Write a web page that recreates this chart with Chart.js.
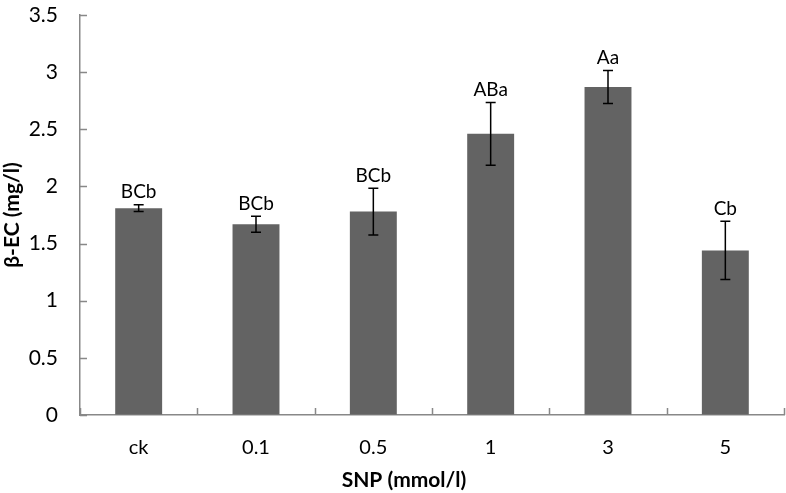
<!DOCTYPE html>
<html>
<head>
<meta charset="utf-8">
<script src="https://cdn.jsdelivr.net/npm/chart.js@4.4.0/dist/chart.umd.min.js"></script>
<style>
  html, body { margin: 0; padding: 0; background: #fff; }
  #wrap { width: 786px; height: 493px; }
</style>
</head>
<body>
<div id="wrap"><canvas id="myChart"></canvas></div>
<script>
const categories = ['ck', '0.1', '0.5', '1', '3', '5'];
const means = [1.81, 1.67, 1.78, 2.46, 2.87, 1.44];
const errors = [0.03, 0.07, 0.205, 0.275, 0.145, 0.255];
const letters = ['BCb', 'BCb', 'BCb', 'ABa', 'Aa', 'Cb'];
const xTitle = 'SNP (mmol/l)';

const FONT = 'Lato, "Open Sans", sans-serif';

// inward tick marks, error bars, letters, x title
const errorBarPlugin = {
    id: 'errorBars',
    afterDatasetsDraw(chart) {
        const ctx = chart.ctx;
        const xScale = chart.scales.x;
        const yScale = chart.scales.y;
        const area = chart.chartArea;
        const meta = chart.getDatasetMeta(0);
        ctx.save();

        // tick marks pointing into the plot
        ctx.strokeStyle = '#888';
        ctx.lineWidth = 1.5;
        ctx.beginPath();
        yScale.ticks.forEach((t, i) => {
            const y = Math.round(yScale.getPixelForTick(i)) + 0.5;
            ctx.moveTo(area.left, y);
            ctx.lineTo(area.left + 7, y);
        });
        const step = xScale.getPixelForValue(1) - xScale.getPixelForValue(0);
        for (let i = 0; i <= categories.length; i++) {
            const x = Math.round(xScale.getPixelForValue(i) - step / 2) + 0.5;
            ctx.moveTo(x, area.bottom);
            ctx.lineTo(x, area.bottom - 7);
        }
        ctx.stroke();

        ctx.strokeStyle = '#000';
        ctx.lineWidth = 1.5;
        meta.data.forEach((bar, i) => {
            const x = bar.x;
            const top = yScale.getPixelForValue(means[i] + errors[i]);
            const bottom = yScale.getPixelForValue(means[i] - errors[i]);
            ctx.beginPath();
            ctx.moveTo(x, top);
            ctx.lineTo(x, bottom);
            ctx.moveTo(x - 5, top);
            ctx.lineTo(x + 5, top);
            ctx.moveTo(x - 5, bottom);
            ctx.lineTo(x + 5, bottom);
            ctx.stroke();

            ctx.fillStyle = '#000';
            ctx.font = '19px ' + FONT;
            ctx.textAlign = 'center';
            ctx.textBaseline = 'bottom';
            ctx.fillText(letters[i], x, top - 3);
        });

        ctx.font = 'bold 21px ' + FONT;
        ctx.textAlign = 'center';
        ctx.textBaseline = 'middle';
        ctx.fillText(xTitle, 404, 480);
        ctx.restore();
    }
};

const myChart = new Chart(document.getElementById('myChart'), {
    type: 'bar',
    data: {
        labels: categories,
        datasets: [{
            data: means,
            backgroundColor: '#636363',
            borderWidth: 0,
            categoryPercentage: 1,
            barPercentage: 0.4
        }]
    },
    options: {
        responsive: true,
        maintainAspectRatio: false,
        animation: false,
        layout: { padding: { top: 15, right: 2, left: 0, bottom: 0 } },
        plugins: {
            legend: { display: false },
            tooltip: { enabled: false }
        },
        scales: {
            x: {
                grid: { display: false },
                border: { color: '#888', width: 1.5 },
                ticks: {
                    color: '#000',
                    font: { family: FONT, size: 20 },
                    padding: 13
                },
                afterFit(scale) { scale.height = 78; }
            },
            y: {
                min: 0,
                max: 3.5,
                grid: {
                    drawOnChartArea: false,
                    drawTicks: true,
                    tickLength: 20,
                    color: 'rgba(0,0,0,0)'
                },
                border: { color: '#888', width: 1.5 },
                ticks: {
                    stepSize: 0.5,
                    color: '#000',
                    font: { family: FONT, size: 21 },
                    padding: 2,
                    callback: v => String(v)
                },
                title: {
                    display: true,
                    text: 'β-EC (mg/l)',
                    color: '#000',
                    font: { family: FONT, size: 21, weight: 'bold' },
                    padding: { top: 0, bottom: 0 }
                },
                afterFit(scale) { scale.width = 80; }
            }
        }
    },
    plugins: [errorBarPlugin]
});
</script>
</body>
</html>
